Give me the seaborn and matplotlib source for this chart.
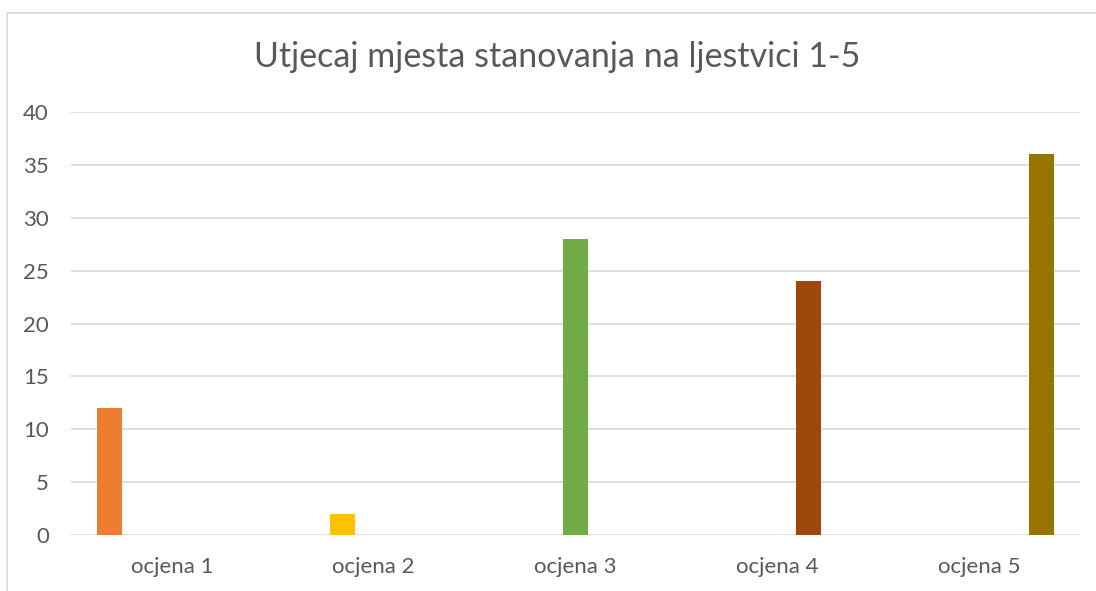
import matplotlib
matplotlib.use("Agg")
import matplotlib.pyplot as plt
import seaborn as sns
import pandas as pd
from matplotlib.lines import Line2D

categories = ["ocjena 1", "ocjena 2", "ocjena 3", "ocjena 4", "ocjena 5"]
values = [12, 2, 28, 24, 36]
colors = ["#ED7D31", "#FFC000", "#70AD47", "#9E480E", "#997300"]
yticks = [0, 5, 10, 15, 20, 25, 30, 35, 40]
title = "Utjecaj mjesta stanovanja na ljestvici 1-5"

sns.set_theme(style="white")
plt.rcParams['font.family'] = ['Lato', 'DejaVu Sans']

df = pd.DataFrame({"cat": categories, "series": categories, "val": values})

fig = plt.figure(figsize=(10.96, 5.91), dpi=100)
ax = fig.add_axes([71/1096, 1-535/591, (1080-71)/1096, (535-112)/591])

sns.barplot(data=df, x="cat", y="val", hue="series", order=categories,
            hue_order=categories, palette=colors, width=0.77, gap=0.2,
            dodge=True, legend=False, ax=ax, saturation=1, linewidth=0)

ax.set_ylim(0, 40)
ax.set_xlim(-0.5, 4.5)
ax.set_yticks(yticks)
ax.set_yticklabels([str(t) for t in yticks])
ax.yaxis.grid(True, color="#D9D9D9", linewidth=1.2)
ax.set_axisbelow(True)
for s in ax.spines.values():
    s.set_visible(False)
ax.tick_params(axis="both", length=0, labelsize=16, labelcolor="#595959")
ax.tick_params(axis="y", pad=16)
ax.tick_params(axis="x", pad=16)
ax.set_xlabel("")
ax.set_ylabel("")

fig.text(557/1096, 1-57/591, title, ha="center", va="center",
         fontsize=24.5, color="#595959")

# chart border (light gray)
fig.add_artist(Line2D([7/1096, 7/1096], [0, 1-13/591], transform=fig.transFigure,
                      color="#D9D9D9", linewidth=1.2))
fig.add_artist(Line2D([7/1096, 1], [1-13/591, 1-13/591], transform=fig.transFigure,
                      color="#D9D9D9", linewidth=1.2))

fig.savefig("out.png", dpi=100, facecolor="white")
